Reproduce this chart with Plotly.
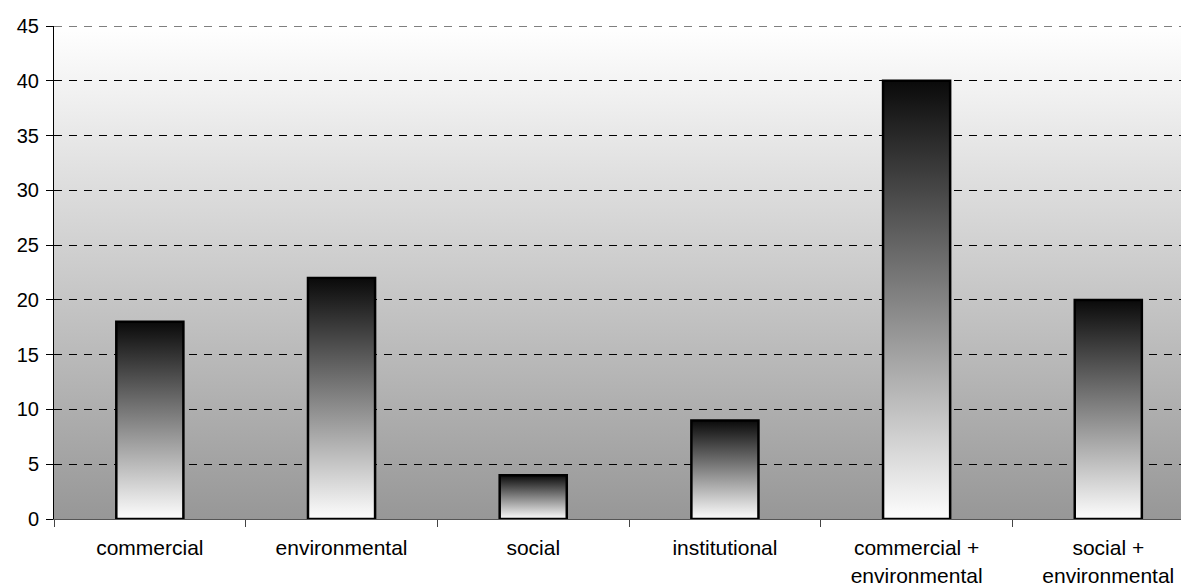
import base64
import plotly.graph_objects as go

categories = ["commercial", "environmental", "social", "institutional",
              "commercial +<br>environmental", "social +<br>environmental"]
values = [18, 22, 4, 9, 40, 20]
y_ticks = [0, 5, 10, 15, 20, 25, 30, 35, 40, 45]

BAR_W = 0.35
FAMILY = "Liberation Sans, Arial, sans-serif"

fig = go.Figure()

for i, v in enumerate(values):
    x0, x1 = i - BAR_W / 2, i + BAR_W / 2
    fig.add_trace(go.Scatter(
        x=[x0, x1, x1, x0, x0], y=[0, 0, v, v, 0],
        mode="lines", fill="toself",
        fillgradient=dict(type="vertical",
                          colorscale=[[0, "#fdfdfd"], [1, "#0a0a0a"]],
                          start=0, stop=v),
        line=dict(color="black", width=2.5),
        hoverinfo="skip", showlegend=False,
    ))

svg = ('<svg xmlns="http://www.w3.org/2000/svg" width="100" height="100" '
       'preserveAspectRatio="none"><defs><linearGradient id="g" x1="0" y1="0" '
       'x2="0" y2="1"><stop offset="0" stop-color="#ffffff"/>'
       '<stop offset="1" stop-color="#979797"/></linearGradient></defs>'
       '<rect width="100" height="100" fill="url(#g)"/></svg>')
src = "data:image/svg+xml;base64," + base64.b64encode(svg.encode()).decode()

fig.update_layout(
    width=1181, height=577,
    margin=dict(l=46, r=0, t=18, b=66),
    paper_bgcolor="white", plot_bgcolor="rgba(0,0,0,0)",
    font=dict(family=FAMILY, size=20, color="black"),
    images=[dict(source=src, xref="paper", yref="paper", x=0, y=1,
                 sizex=1, sizey=1, sizing="stretch", layer="below",
                 xanchor="left", yanchor="top")],
    shapes=[dict(type="line", xref="paper", yref="y", x0=0, x1=1,
                 y0=y_ticks[-1], y1=y_ticks[-1], layer="below",
                 line=dict(color="black", width=1, dash="8px,7px"))],
    xaxis=dict(
        range=[-0.5, 5.421], tickmode="array",
        tickvals=list(range(len(categories))), ticktext=categories,
        ticks="", showgrid=False, zeroline=False,
        showline=True, linecolor="#555555", linewidth=1,
        minor=dict(tickmode="array",
                   tickvals=[k - 0.5 for k in range(len(categories) + 1)],
                   ticks="outside", ticklen=7, tickcolor="#444444",
                   tickwidth=1, showgrid=False),
        ticklabelstandoff=10,
        tickfont=dict(family=FAMILY, size=21, color="black"),
        automargin=False,
    ),
    yaxis=dict(
        range=[0, 45], tickmode="array", tickvals=y_ticks,
        ticks="outside", ticklen=7, tickcolor="black", tickwidth=1,
        ticklabelstandoff=3,
        showline=True, linecolor="black", linewidth=1,
        showgrid=True, gridcolor="black", gridwidth=1, griddash="8px,7px",
        zeroline=False, tickfont=dict(family=FAMILY, size=20, color="black"),
        automargin=False,
    ),
)

fig.write_html("out.html")
